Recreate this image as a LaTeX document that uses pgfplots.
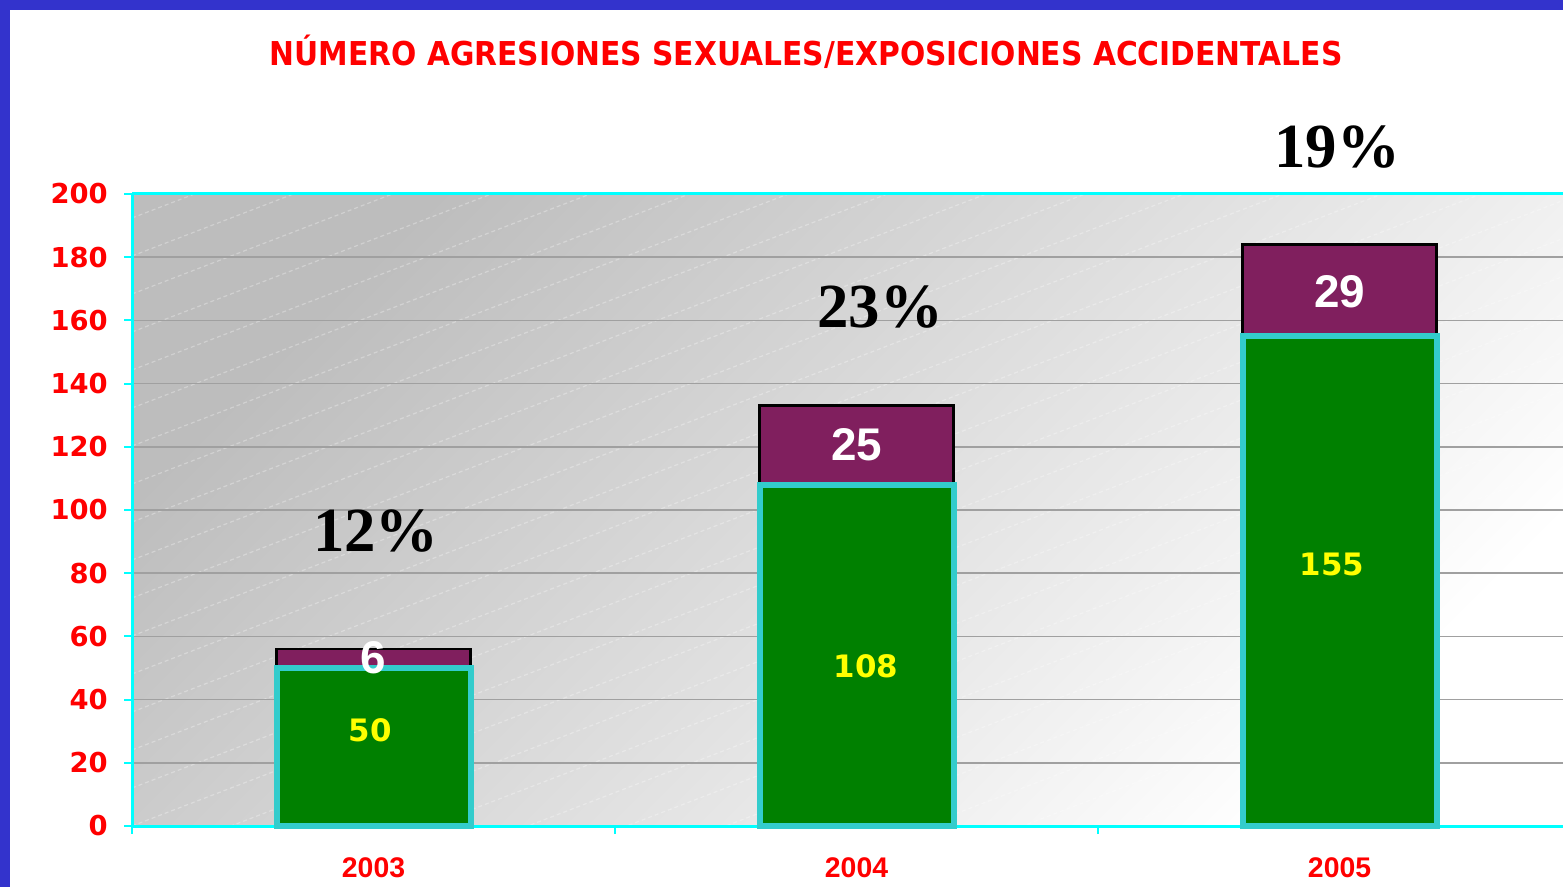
\documentclass[border=0pt]{standalone}
\usepackage{fontspec}
\usepackage{pgfplots}
\pgfplotsset{compat=1.18}
\newfontfamily\vfont{DejaVu Sans}
\newfontfamily\vfontc{DejaVu Sans}[FakeStretch=0.905]
\newfontfamily\afont{Liberation Sans}
\newfontfamily\tfont{Liberation Serif}
\definecolor{borderblue}{HTML}{3333CC}
\definecolor{barg}{HTML}{008000}
\definecolor{barp}{HTML}{801F5E}
\definecolor{edgec}{HTML}{33CCCC}
\definecolor{axc}{HTML}{00FFFF}
\definecolor{gridc}{HTML}{A0A0A0}
\definecolor{titr}{HTML}{FF0000}
\definecolor{bgdark}{HTML}{BDBDBD}
\definecolor{labyel}{HTML}{FFFF00}
\pgfdeclarelayer{bg}
\pgfsetlayers{bg,main}
\pgfplotstableread{
x v
0.5 50
1.5 108
2.5 155
}\greentab
\pgfplotstableread{
x v
0.5 6
1.5 25
2.5 29
}\purpletab
\begin{document}
\begin{tikzpicture}[x=1bp,y=1bp]
\useasboundingbox (0,0) rectangle (1563,887);
\begin{axis}[
  at={(132bp,61bp)}, anchor=south west,
  scale only axis, width=1431bp, height=632bp,
  xmin=0, xmax=2.9627, ymin=0, ymax=200,
  ybar stacked, bar width=194bp,
  clip=false,
  axis x line*=bottom, axis y line*=left,
  axis line style={axc, line width=3bp, -},
  ytick={0,20,...,200},
  xtick={0,1,2}, xticklabels={},
  tick align=outside,
  major tick length=8bp,
  tick style={axc, line width=2bp},
  ymajorgrids,
  major grid style={gridc, line width=1.5bp},
  /pgf/number format/assume math mode=true,
  yticklabel style={font=\vfont\bfseries\fontsize{27.5}{27.5}\selectfont, text=titr, inner sep=0pt, anchor=east, xshift=-16bp},
  extra x ticks={0.5,1.5,2.5},
  extra x tick labels={2003,2004,2005},
  extra x tick style={major tick length=0bp, xticklabel style={font=\afont\bfseries\fontsize{28.5}{28.5}\selectfont, text=titr, inner sep=0pt, anchor=north, yshift=-31bp}},
]
\addplot[fill=barg, draw=edgec, line width=6bp] table[x=x,y=v] {\greentab};
\addplot[fill=barp, draw=black, line width=2.5bp] table[x=x,y=v] {\purpletab};
\draw[axc, line width=3bp] (rel axis cs:0,1) -- (rel axis cs:1,1);
\coordinate (g1) at (axis cs:0.4928,30.4);
\coordinate (g2) at (axis cs:1.5197,50.6);
\coordinate (g3) at (axis cs:2.4845,82.9);
\coordinate (p1) at (axis cs:0.5,53.2);
\coordinate (p2) at (axis cs:1.5,120.6);
\coordinate (p3) at (axis cs:2.5,169.0);
\coordinate (q1) at (axis cs:0.505,93.4);
\coordinate (q2) at (axis cs:1.549,164.2);
\coordinate (q3) at (axis cs:2.495,214.9);
\end{axis}
\begin{pgfonlayer}{bg}
\fill[white] (0,0) rectangle (1563,887);
\shade[top color=bgdark, bottom color=white, shading angle=45] (132,61) rectangle (1563,693);
\begin{scope}
\clip (132,61) rectangle (1563,693);
\foreach \i in {-16,...,18} {
  \draw[white, opacity=0.3, line width=1.2bp, dash pattern=on 4bp off 3bp] (132,61+\i*38) -- ++(1500,576);
}
\end{scope}
\end{pgfonlayer}
\begin{scope}[font=\vfont\bfseries\fontsize{31}{31}\selectfont, text=labyel]
\node at (g1) {50};
\node at (g2) {108};
\node at (g3) {155};
\end{scope}
\begin{scope}[font=\afont\bfseries\fontsize{46}{46}\selectfont, text=white]
\node at (p1) {6};
\node at (p2) {25};
\node at (p3) {29};
\end{scope}
\begin{scope}[font=\tfont\bfseries\fontsize{63}{63}\selectfont, text=black, inner sep=0pt]
\node at (q1) {12\%};
\node at (q2) {23\%};
\node at (q3) {19\%};
\end{scope}
\node[font=\vfontc\bfseries\fontsize{33}{33}\selectfont, text=titr, inner sep=0pt] at (806,835) {NÚMERO AGRESIONES SEXUALES/EXPOSICIONES ACCIDENTALES};
\fill[borderblue] (0,877) rectangle (1563,887);
\fill[borderblue] (0,0) rectangle (10,887);
\end{tikzpicture}
\end{document}
